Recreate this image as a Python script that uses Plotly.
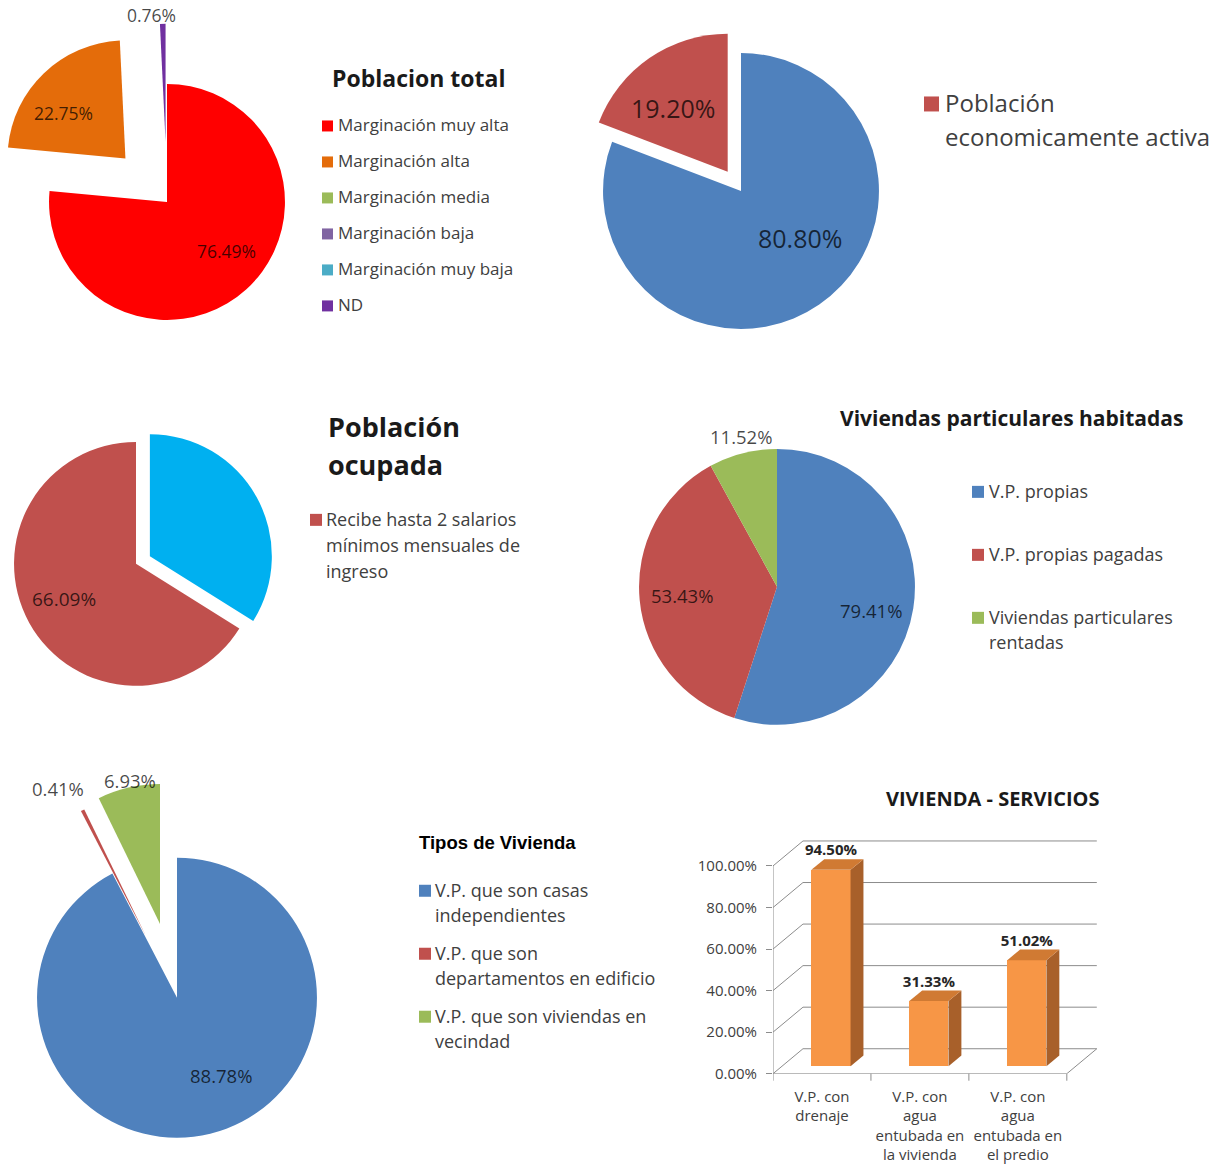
import math
import plotly.graph_objects as go

W, H = 1225, 1167
Y_FIX = 1.0075   # small vertical correction so layout positions land where intended
FONT = "Open Sans"

# ---------------- data ----------------
# Población total
pt_labels = ["Marginación muy alta", "Marginación alta", "Marginación media",
             "Marginación baja", "Marginación muy baja", "ND"]
pt_values = [76.49, 22.75, 0, 0, 0, 0.76]

# Población económicamente activa
pea_labels = ["Población<br>economicamente activa"]
pea_values = [80.80, 19.20]

# Población ocupada
ocu_labels = ["Recibe hasta 2 salarios<br>mínimos mensuales de<br>ingreso"]
ocu_values = [33.91, 66.09]

# Viviendas particulares habitadas
vph_labels = ["V.P. propias", "V.P. propias pagadas",
              "Viviendas particulares<br>rentadas"]
vph_values = [79.41, 53.43, 11.52]

# Tipos de vivienda
tipo_labels = ["V.P. que son casas<br>independientes",
               "V.P. que son<br>departamentos en edificio",
               "V.P. que son viviendas en<br>vecindad"]
tipo_values = [88.78, 0.41, 6.93]

# Vivienda - servicios
serv_labels = ["V.P. con<br>drenaje",
               "V.P. con<br>agua<br>entubada en<br>la vivienda",
               "V.P. con<br>agua<br>entubada en<br>el predio"]
serv_values = [94.50, 31.33, 51.02]
serv_ticks = [0, 20, 40, 60, 80, 100]

# ---------------- helpers ----------------
def px_x(x):
    return x / W


def px_y(y):
    return 1 - y * Y_FIX / H


def mid_angles(values):
    """Mid angle of every slice, degrees clockwise from 12 o'clock."""
    total = sum(values)
    out, start = [], 0.0
    for v in values:
        span = 360.0 * v / total
        out.append(start + span / 2)
        start += span
    return out


def unit(deg):
    a = math.radians(deg)
    return math.sin(a), -math.cos(a)


LABEL_COLOR = "rgba(0,0,0,0.72)"


def add_pie(fig, values, colors, cx, cy, r, pulls, label_cfg):
    """Each slice is its own pie trace so an exploded slice keeps full radius."""
    mids = mid_angles(values)
    for i, v in enumerate(values):
        if v <= 0:
            continue
        ux, uy = unit(mids[i])
        ox, oy = cx + pulls[i] * r * ux, cy + pulls[i] * r * uy
        cols = ["rgba(0,0,0,0)"] * len(values)
        cols[i] = colors[i]
        fig.add_trace(go.Pie(
            values=values, sort=False, direction="clockwise", rotation=0,
            marker=dict(colors=cols, line=dict(width=0)),
            textinfo="none", hoverinfo="skip", showlegend=False,
            domain=dict(x=[px_x(ox - r), px_x(ox + r)],
                        y=[px_y(oy + r), px_y(oy - r)]),
        ))
        cfg = label_cfg[i]
        if cfg is None:
            continue
        frac, nudge, size = cfg
        lx, ly = unit(mids[i] + nudge)
        fig.add_annotation(
            x=px_x(ox + frac * r * lx), y=px_y(oy + frac * r * ly),
            xref="paper", yref="paper", showarrow=False,
            text=f"{v:.2f}%", xanchor="center", yanchor="middle",
            font=dict(family=FONT, size=size, color=LABEL_COLOR))


def add_legend(fig, labels, colors, sq_x, sq_size, text_x, first_y,
               item_gap, line_gap, size, color="#404040"):
    y = first_y
    for lab, col in zip(labels, colors):
        fig.add_shape(type="rect", xref="paper", yref="paper",
                      x0=px_x(sq_x), x1=px_x(sq_x + sq_size),
                      y0=px_y(y + 1 + sq_size / 2), y1=px_y(y + 1 - sq_size / 2),
                      fillcolor=col, line_width=0)
        lines = lab.split("<br>")
        for k, ln in enumerate(lines):
            fig.add_annotation(x=px_x(text_x), y=px_y(y + k * line_gap),
                               xref="paper", yref="paper", showarrow=False,
                               text=ln, xanchor="left", yanchor="middle",
                               font=dict(family=FONT, size=size, color=color))
        y += (len(lines) - 1) * line_gap + item_gap


def add_text(fig, text, x, y, size, anchor="left", bold=True, family=FONT,
             color="#1a1a1a"):
    fig.add_annotation(x=px_x(x), y=px_y(y), xref="paper", yref="paper",
                       showarrow=False, text=f"<b>{text}</b>" if bold else text,
                       xanchor=anchor, yanchor="middle",
                       font=dict(family=family, size=size, color=color))


fig = go.Figure()

# ---------------- Población total ----------------
PT_COLORS = ["#FF0000", "#E46C0A", "#9BBB59", "#8064A2", "#4BACC6", "#7030A0"]
add_pie(fig, pt_values, PT_COLORS,
        cx=167, cy=202, r=118, pulls=[0, 0.51, 0, 0, 0, 0.51],
        label_cfg=[(0.65, -8, 17.5), (0.65, -10, 17.5), None, None, None,
                   (1.08, -5, 17.5)])
add_text(fig, "Poblacion total", 330, 78, 23)
add_legend(fig, pt_labels, PT_COLORS,
           sq_x=322, sq_size=11, text_x=336, first_y=125, item_gap=36,
           line_gap=0, size=17)

# ---------------- Población económicamente activa ----------------
add_pie(fig, pea_values, ["#4F81BD", "#C0504D"],
        cx=741, cy=191, r=138, pulls=[0, 0.17],
        label_cfg=[(0.55, -17, 25), (0.61, -6, 25)])
add_legend(fig, pea_labels, ["#C0504D"], sq_x=924, sq_size=15, text_x=943,
           first_y=103, item_gap=0, line_gap=34, size=24)

# ---------------- Población ocupada ----------------
add_pie(fig, ocu_values, ["#00B0F0", "#C0504D"],
        cx=136, cy=564, r=122, pulls=[0.13, 0],
        label_cfg=[None, (0.66, 3, 19)])
add_text(fig, "Población", 326, 427, 27)
add_text(fig, "ocupada", 326, 465, 27)
add_legend(fig, ocu_labels, ["#C0504D"], sq_x=310, sq_size=12, text_x=324,
           first_y=519, item_gap=0, line_gap=26, size=18)

# ---------------- Viviendas particulares habitadas ----------------
add_pie(fig, vph_values, ["#4F81BD", "#C0504D", "#9BBB59"],
        cx=777, cy=587, r=138, pulls=[0, 0, 0],
        label_cfg=[(0.70, 5, 18.5), (0.69, 0, 18.5), (1.12, 1, 18.5)])
add_text(fig, "Viviendas particulares habitadas", 1011, 418, 21, anchor="center")
add_legend(fig, vph_labels, ["#4F81BD", "#C0504D", "#9BBB59"],
           sq_x=972, sq_size=12, text_x=987, first_y=491, item_gap=63,
           line_gap=25, size=18)

# ---------------- Tipos de vivienda ----------------
add_pie(fig, tipo_values, ["#4F81BD", "#C0504D", "#9BBB59"],
        cx=177, cy=998, r=140, pulls=[0, 0.5, 0.54],
        label_cfg=[(0.64, -16, 18.5), (1.22, -4, 18.5), (1.05, 1, 18.5)])
add_text(fig, "Tipos de Vivienda", 417, 843, 18.5, family="Liberation Sans",
         color="#000000")
add_legend(fig, tipo_labels, ["#4F81BD", "#C0504D", "#9BBB59"],
           sq_x=419, sq_size=12, text_x=433, first_y=890, item_gap=38,
           line_gap=25, size=18)

# ---------------- Vivienda - servicios (3-D style columns) ----------------
DX, DY = 30 / 98, 25 / 2.08      # depth of the box, in axis units
BAR_D0, BAR_DEPTH, BAR_W = 0.30, 0.43, 0.40
GRID = "#8C8C8C"
X0, X1 = -0.5, len(serv_values) - 0.5

# walls and floor (below the columns)
for t in serv_ticks:
    fig.add_shape(type="line", xref="x", yref="y", layer="below",
                  x0=X0 + DX, x1=X1 + DX, y0=t + DY, y1=t + DY,
                  line=dict(color=GRID, width=1))
    fig.add_shape(type="line", xref="x", yref="y", layer="below",
                  x0=X0, x1=X0 + DX, y0=t, y1=t + DY,
                  line=dict(color=GRID, width=1))
fig.add_shape(type="line", xref="x", yref="y", layer="below",
              x0=X0, x1=X0, y0=0, y1=serv_ticks[-1],
              line=dict(color=GRID, width=1))
fig.add_shape(type="line", xref="x", yref="y", layer="below",
              x0=X0, x1=X1, y0=0, y1=0, line=dict(color=GRID, width=1))
fig.add_shape(type="line", xref="x", yref="y", layer="below",
              x0=X1, x1=X1 + DX, y0=0, y1=DY, line=dict(color=GRID, width=1))
# category separators under the floor edge
for k in range(len(serv_values) + 1):
    fig.add_shape(type="line", xref="x", yref="paper",
                  x0=X0 + k, x1=X0 + k, y0=px_y(1074), y1=px_y(1081),
                  line=dict(color=GRID, width=1))

base = BAR_D0 * DY
xs = [i + BAR_D0 * DX for i in range(len(serv_values))]
fig.add_trace(go.Bar(x=xs, y=serv_values, base=base, width=BAR_W,
                     marker=dict(color="#F79646", line=dict(width=0)),
                     hoverinfo="skip", showlegend=False,
                     xaxis="x", yaxis="y"))
ddx, ddy = BAR_DEPTH * DX, BAR_DEPTH * DY
for xc, v in zip(xs, serv_values):
    xl, xr, top = xc - BAR_W / 2, xc + BAR_W / 2, base + v
    fig.add_trace(go.Scatter(
        x=[xr, xr + ddx, xr + ddx, xr, xr], y=[base, base + ddy, top + ddy, top, base],
        fill="toself", fillcolor="#A8602A", mode="lines", line=dict(width=0),
        hoverinfo="skip", showlegend=False))
    fig.add_trace(go.Scatter(
        x=[xl, xr, xr + ddx, xl + ddx, xl], y=[top, top, top + ddy, top + ddy, top],
        fill="toself", fillcolor="#D07A33", mode="lines", line=dict(width=0),
        hoverinfo="skip", showlegend=False))
fig.add_trace(go.Scatter(
    x=xs, y=[base + v + ddy for v in serv_values], mode="text",
    text=[f"{v:.2f}%" for v in serv_values], textposition="top center",
    textfont=dict(family=FONT, size=15, color="#262626", weight="bold"),
    hoverinfo="skip", showlegend=False))

add_text(fig, "VIVIENDA - SERVICIOS", 992, 799, 20, anchor="center")

fig.update_layout(
    width=W, height=H, margin=dict(l=0, r=0, t=0, b=0),
    paper_bgcolor="white", plot_bgcolor="rgba(0,0,0,0)",
    showlegend=False, bargap=0,
    xaxis=dict(domain=[px_x(773), px_x(1106)], range=[X0, 2.9],
               tickmode="array", tickvals=list(range(len(serv_values))),
               ticktext=serv_labels, ticks="", showgrid=False, zeroline=False,
               showline=False, ticklabelstandoff=12,
               tickfont=dict(family=FONT, size=15, color="#404040")),
    yaxis=dict(domain=[px_y(1074), px_y(835)], range=[0, 115],
               tickmode="array", tickvals=serv_ticks,
               ticktext=[f"{t:.2f}%" for t in serv_ticks],
               ticks="outside", ticklen=6, tickcolor=GRID, showgrid=False,
               zeroline=False, showline=False, ticklabelstandoff=6,
               tickfont=dict(family=FONT, size=15, color="#404040")),
)

fig.write_html("out.html", config={"displayModeBar": False})
